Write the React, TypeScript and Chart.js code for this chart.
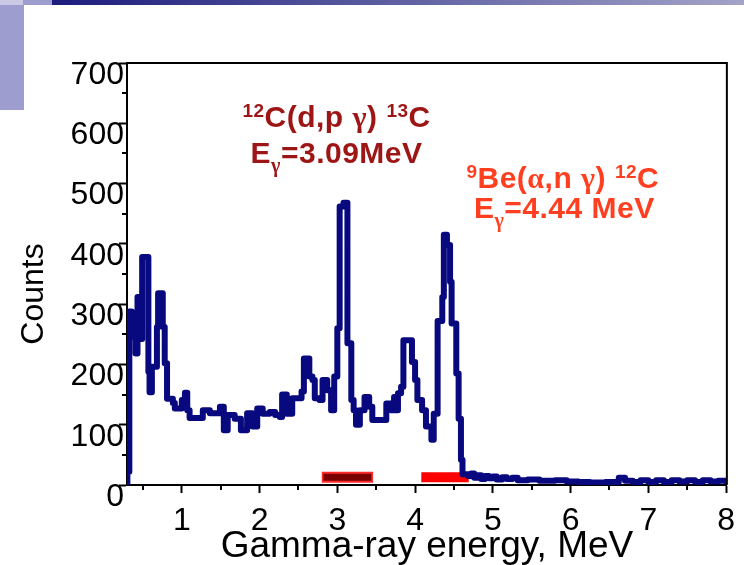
import React, { useEffect, useRef } from 'react';
import { Chart, registerables } from 'chart.js';

Chart.register(...registerables);

// ---- data ----
// left edge of each histogram step (MeV) and its counts
const energyMeV = [
  0.295, 0.3, 0.325, 0.355, 0.375, 0.39, 0.405, 0.43, 0.46, 0.49,
  0.57, 0.585, 0.615, 0.68, 0.695, 0.755, 0.78, 0.81, 0.885, 0.91,
  1.0, 1.04, 1.07, 1.1, 1.27, 1.36, 1.49, 1.54, 1.59, 1.68,
  1.76, 1.84, 1.91, 1.97, 2.04, 2.13, 2.2, 2.26, 2.29, 2.35,
  2.42, 2.54, 2.57, 2.64, 2.68, 2.71, 2.77, 2.81, 2.87, 2.92,
  2.96, 3.0, 3.03, 3.08, 3.13, 3.18, 3.21, 3.24, 3.29, 3.35,
  3.41, 3.45, 3.63, 3.69, 3.73, 3.76, 3.78, 3.82, 3.85, 3.96,
  4.0, 4.03, 4.09, 4.14, 4.21, 4.24, 4.29, 4.35, 4.37, 4.41,
  4.45, 4.47, 4.53, 4.56, 4.59, 4.61, 4.68, 4.72, 4.76, 4.8,
  4.85, 4.9, 4.95, 5.0, 5.05, 5.12, 5.18, 5.25, 5.32, 5.45,
  5.6, 5.8, 5.95, 6.1, 6.25, 6.45, 6.62, 6.7, 6.8, 6.9,
  7.0, 7.1, 7.2, 7.3, 7.4, 7.5, 7.6, 7.7, 7.8, 7.9,
  8.0,
];
const counts = [
  0, 22, 288, 265, 246, 262, 218, 312, 242, 378,
  188, 154, 196, 262, 318, 262, 202, 143, 136, 127,
  141, 153, 124, 111, 124, 119, 130, 91, 116, 110,
  91, 119, 97, 127, 118, 121, 116, 113, 150, 118,
  144, 155, 210, 180, 174, 144, 141, 174, 157, 124,
  180, 260, 462, 468, 235, 141, 124, 100, 124, 146,
  130, 108, 135, 124, 146, 124, 152, 163, 240, 204,
  174, 141, 124, 97, 75, 118, 272, 312, 415, 398,
  337, 268, 185, 110, 42, 18, 15, 19, 12, 16,
  10, 15, 11, 14, 9, 13, 10, 12, 8, 9,
  7, 8, 6, 5, 4, 5, 12, 7, 5, 8,
  5, 8, 5, 8, 6, 8, 5, 8, 6, 7,
  6,
];

const xRange = [0.295, 8.01];
const yRange = [0, 700];
const xMajorStep = 1;
const yMajorStep = 100;
const xMinorTicks = [0.5, 1.5, 2.5, 3.5, 4.5, 5.5, 6.5, 7.5];
const yMinorTicks = [50, 150, 250, 350, 450, 550, 650];

// gate markers under the peaks (MeV)
const dpBand = [2.81, 3.45];
const beBand = [4.08, 4.69];
const bandLevel = 13;

const xTitle = 'Gamma-ray energy, MeV';
const yTitle = 'Counts';

type Seg = { t: string; sup?: boolean; sub?: boolean; greek?: boolean };
type Ann = { x: number; y: number; color: string; segs: Seg[] };

const annotations: Ann[] = [
  {
    x: 2.99, y: 594, color: '#9e1515',
    segs: [{ t: '12', sup: true }, { t: 'C(d,p ' }, { t: 'γ', greek: true }, { t: ') ' }, { t: '13', sup: true }, { t: 'C' }],
  },
  {
    x: 2.99, y: 534, color: '#9e1515',
    segs: [{ t: 'E' }, { t: 'γ', sub: true, greek: true }, { t: '=3.09MeV' }],
  },
  {
    x: 5.9, y: 492, color: '#ff3f1f',
    segs: [{ t: '9', sup: true }, { t: 'Be(' }, { t: 'α', greek: true }, { t: ',n ' }, { t: 'γ', greek: true }, { t: ') ' }, { t: '12', sup: true }, { t: 'C' }],
  },
  {
    x: 5.92, y: 443, color: '#ff3f1f',
    segs: [{ t: 'E' }, { t: 'γ', sub: true, greek: true }, { t: '=4.44 MeV' }],
  },
];

const FONT = "'Liberation Sans', Arial, Helvetica, sans-serif";
const SERIF = "'Liberation Serif', 'DejaVu Serif', serif";

function drawRich(ctx: CanvasRenderingContext2D, segs: Seg[], cx: number, baseline: number, color: string, size: number) {
  const small = Math.round(size * 0.62);
  const fontOf = (s: Seg) => {
    const sz = s.sup || s.sub ? (s.sub ? Math.round(size * 0.68) : small) : size;
    return `bold ${sz}px ${s.greek ? SERIF : FONT}`;
  };
  ctx.save();
  (ctx as any).letterSpacing = '0.5px';
  ctx.fillStyle = color;
  ctx.textAlign = 'left';
  ctx.textBaseline = 'alphabetic';
  let total = 0;
  const widths = segs.map((s) => {
    ctx.font = fontOf(s);
    const w = ctx.measureText(s.t).width;
    total += w;
    return w;
  });
  let x = cx - total / 2;
  segs.forEach((s, i) => {
    ctx.font = fontOf(s);
    const dy = s.sup ? -size * 0.34 : s.sub ? size * 0.3 : 0;
    ctx.fillText(s.t, x, baseline + dy);
    x += widths[i];
  });
  ctx.restore();
}

const decorPlugin = {
  id: 'decor',
  afterDraw(chart: any) {
    const { ctx, chartArea } = chart;
    const xs = chart.scales.x;
    const ys = chart.scales.y;
    ctx.save();
    // frame top and right
    ctx.strokeStyle = '#000';
    ctx.lineWidth = 2;
    ctx.beginPath();
    ctx.moveTo(chartArea.left, chartArea.top);
    ctx.lineTo(chartArea.right, chartArea.top);
    ctx.lineTo(chartArea.right, chartArea.bottom);
    ctx.stroke();
    // minor ticks
    ctx.beginPath();
    xMinorTicks.forEach((v) => {
      const px = Math.round(xs.getPixelForValue(v));
      ctx.moveTo(px, chartArea.bottom);
      ctx.lineTo(px, chartArea.bottom + 5);
    });
    yMinorTicks.forEach((v) => {
      const py = Math.round(ys.getPixelForValue(v));
      ctx.moveTo(chartArea.left - 5, py);
      ctx.lineTo(chartArea.left, py);
    });
    ctx.stroke();
    // y title
    ctx.fillStyle = '#000';
    ctx.font = `32px ${FONT}`;
    ctx.textAlign = 'center';
    ctx.textBaseline = 'alphabetic';
    ctx.translate(43, (chartArea.top + chartArea.bottom) / 2 + 20);
    ctx.rotate(-Math.PI / 2);
    ctx.fillText(yTitle, 0, 0);
    ctx.restore();
    // annotations
    annotations.forEach((a) => {
      drawRich(ctx, a.segs, xs.getPixelForValue(a.x), ys.getPixelForValue(a.y), a.color, 30);
    });
  },
};

export default function App() {
  const ref = useRef<HTMLCanvasElement>(null);
  useEffect(() => {
    const canvas = ref.current;
    if (!canvas) return;
    const spectrum = energyMeV.map((e, i) => ({ x: e, y: counts[i] }));
    const band = (r: number[], d = 0) => [
      { x: r[0] + d, y: bandLevel },
      { x: r[1] - d, y: bandLevel },
    ];
    const chart = new Chart(canvas, {
      type: 'line',
      data: {
        datasets: [
          {
            data: spectrum,
            stepped: true,
            borderColor: '#08087f',
            borderWidth: 6,
            borderJoinStyle: 'round',
            borderCapStyle: 'round',
            pointRadius: 0,
            fill: false,
          },
          {
            data: band(dpBand, 0.012),
            borderColor: '#7a0000',
            borderWidth: 7,
            borderCapStyle: 'butt',
            pointRadius: 0,
          },
          {
            data: band(dpBand, -0.01),
            borderColor: '#ff2a2a',
            borderWidth: 11,
            borderCapStyle: 'butt',
            pointRadius: 0,
          },
          {
            data: band(beBand),
            borderColor: '#ff0000',
            borderWidth: 10,
            borderCapStyle: 'butt',
            pointRadius: 0,
          },
        ],
      } as any,
      options: {
        animation: false,
        responsive: false,
        devicePixelRatio: 1,
        layout: { padding: { top: 63, right: 15, bottom: 0, left: 0 } },
        plugins: { legend: { display: false }, tooltip: { enabled: false } },
        scales: {
          x: {
            type: 'linear',
            min: xRange[0],
            max: xRange[1],
            ticks: {
              stepSize: xMajorStep,
              includeBounds: false,
              autoSkip: false,
              maxRotation: 0,
              color: '#000',
              padding: 9,
              font: { size: 32, family: FONT },
            },
            grid: { drawOnChartArea: false, drawTicks: true, tickLength: 8, tickWidth: 2, tickColor: '#000' },
            border: { display: true, color: '#000', width: 2 },
            title: {
              display: true,
              text: xTitle,
              color: '#000',
              font: { size: 37, family: FONT },
              padding: { top: 0, bottom: -4 },
            },
            afterFit: (s: any) => {
              s.height = 80;
            },
          },
          y: {
            type: 'linear',
            min: yRange[0],
            max: yRange[1],
            ticks: {
              stepSize: yMajorStep,
              color: '#000',
              padding: -5,
              labelOffset: 12,
              font: { size: 32, family: FONT },
            },
            grid: { drawOnChartArea: false, drawTicks: true, tickLength: 8, tickWidth: 2, tickColor: '#000' },
            border: { display: true, color: '#000', width: 2 },
            afterFit: (s: any) => {
              s.width = 127;
            },
          },
        },
      } as any,
      plugins: [decorPlugin],
    });
    return () => chart.destroy();
  }, []);

  return (
    <div style={{ position: 'fixed', left: 0, top: 0, width: 744, height: 565, background: '#fff', overflow: 'hidden' }}>
      <canvas ref={ref} width={744} height={565} style={{ display: 'block', width: 744, height: 565 }} />
      <div style={{ position: 'absolute', left: 0, top: 0, width: 23, height: 5, background: '#cacae6' }} />
      <div style={{ position: 'absolute', left: 23, top: 0, width: 29, height: 5, background: '#9d9dd0' }} />
      <div style={{ position: 'absolute', left: 52, top: 0, width: 692, height: 5, background: 'linear-gradient(to right, #1c1c7c, #a3a3c8)' }} />
      <div style={{ position: 'absolute', left: 0, top: 5, width: 24, height: 105, background: '#9d9dcf' }} />
    </div>
  );
}
